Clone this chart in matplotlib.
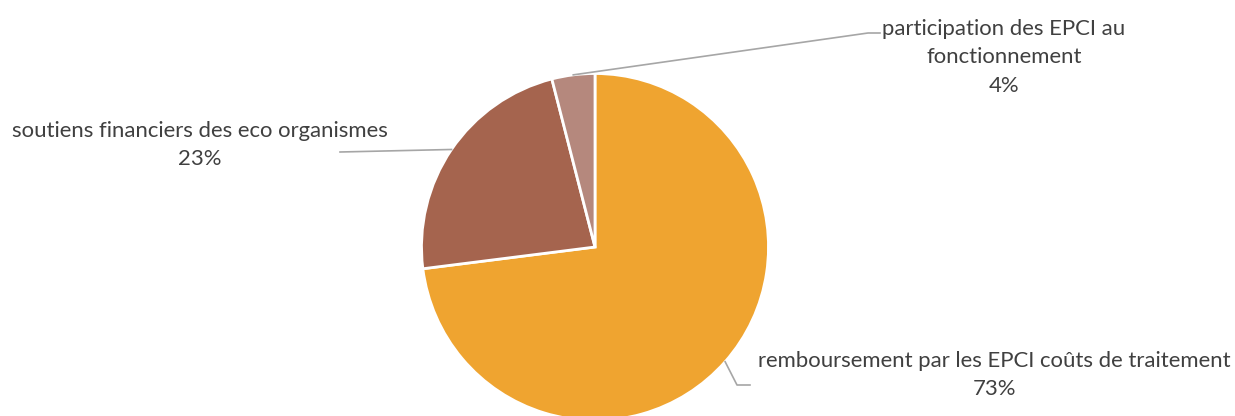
import matplotlib
matplotlib.use("Agg")
import matplotlib.pyplot as plt
import numpy as np

categories = ["remboursement par les EPCI coûts de traitement",
              "soutiens financiers des eco organismes",
              "participation des EPCI au\nfonctionnement"]
values = [73, 23, 4]
colors = ["#EFA430", "#A5644E", "#B5887D"]

W, H = 1235, 416
fig = plt.figure(figsize=(W / 100, H / 100), dpi=100)
cx, cy, R = 595, 247, 173.5
ax = fig.add_axes([(cx - R) / W, (H - cy - R) / H, 2 * R / W, 2 * R / H])
wedges, _ = ax.pie(values, colors=colors, startangle=90, counterclock=False,
                   radius=1, wedgeprops=dict(edgecolor="white", linewidth=2))
ax.set_xlim(-1, 1)
ax.set_ylim(-1, 1)
ax.set_aspect("equal")
ax.axis("off")

def px(x, y):
    return ((x - cx) / R, (cy - y) / R)

font = "Lato"
tcol = "#404040"
lcol = "#A6A6A6"

# fit font size to reference text width
renderer = fig.canvas.get_renderer()
t = fig.text(0, 0, "remboursement par les EPCI coûts de traitement", family=font, fontsize=14)
w = t.get_window_extent(renderer).width
t.remove()
fs = 14 * 473 / w

# label layout: (text center x, baselines, elbow points)
layout = {
    0: dict(x=994, ys=[367, 395], path=[(737, 385), (750, 385)]),
    1: dict(x=200, ys=[137, 165], path=[(340, 152)]),
    2: dict(x=1004, ys=[35, 63, 92], path=[(868, 33), (880, 33)]),
}
for i, wdg in enumerate(wedges):
    mid = np.deg2rad((wdg.theta1 + wdg.theta2) / 2)
    start = (np.cos(mid), np.sin(mid))
    pts = [start] + [px(*p) for p in layout[i]["path"]]
    xs, ys = zip(*pts)
    ax.plot(xs, ys, color=lcol, lw=1.2, clip_on=False)
    lines = categories[i].split("\n") + [f"{values[i]}%"]
    for line, by in zip(lines, layout[i]["ys"]):
        x, y = px(layout[i]["x"], by)
        ax.text(x, y, line, ha="center", va="baseline", family=font,
                fontsize=fs, color=tcol, clip_on=False)

fig.savefig("out.png", dpi=100)
